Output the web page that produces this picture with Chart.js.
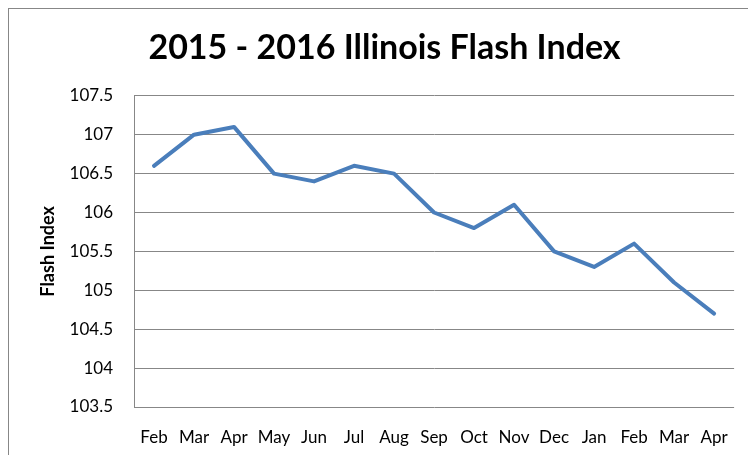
<!DOCTYPE html>
<html>
<head>
<meta charset="utf-8">
<script src="https://cdn.jsdelivr.net/npm/chart.js@4/dist/chart.umd.min.js"></script>
<style>
html,body{margin:0;padding:0;background:#fff;}
#wrap{position:relative;width:748px;height:455px;}
</style>
</head>
<body>
<div id="wrap"><canvas id="c" width="748" height="455"></canvas></div>
<script>
const months = ["Feb","Mar","Apr","May","Jun","Jul","Aug","Sep","Oct","Nov","Dec","Jan","Feb","Mar","Apr"];
const flashIndex = [106.6,107.0,107.1,106.5,106.4,106.6,106.5,106.0,105.8,106.1,105.5,105.3,105.6,105.1,104.7];
const yMin = 103.5, yMax = 107.5, yStep = 0.5;
const titleText = "2015 - 2016 Illinois Flash Index";
const yTitle = "Flash Index";

const frame = {
  id:'frame',
  beforeDraw(chart){
    const ctx = chart.ctx;
    ctx.save();
    ctx.fillStyle='#fff';
    ctx.fillRect(0,0,chart.width,chart.height);
    ctx.strokeStyle='#878787';
    ctx.lineWidth=1;
    ctx.strokeRect(8.5,8.5,1000,1000);
    ctx.restore();
  }
};

new Chart(document.getElementById('c'),{
  type:'line',
  data:{labels:months,datasets:[{data:flashIndex,borderColor:'#4a7ebb',borderWidth:4,pointRadius:0,tension:0,fill:false,borderJoinStyle:'round',borderCapStyle:'round'}]},
  options:{
    responsive:false,animation:false,
    layout:{padding:{left:30,right:9,top:0,bottom:0}},
    plugins:{
      legend:{display:false},tooltip:{enabled:false},
      title:{display:true,text:titleText,color:'#000',font:{family:'Lato',size:34,weight:'bold',lineHeight:1.2},padding:{top:28,bottom:27}}
    },
    scales:{
      x:{
        offset:true,
        grid:{display:false,drawTicks:false},
        border:{display:false},
        ticks:{color:'#000',font:{family:'Lato',size:17},padding:20,maxRotation:0,autoSkip:false},
        afterFit(s){s.height=48;}
      },
      y:{
        min:yMin,max:yMax,
        grid:{color:'#878787',lineWidth:1,drawTicks:false},
        border:{display:true,color:'#878787',width:1},
        ticks:{stepSize:yStep,color:'#000',font:{family:'Lato',size:17},padding:21,callback:v=>String(Math.round(v*10)/10)},
        title:{display:true,text:yTitle,color:'#000',font:{family:'Lato',size:18,weight:'bold',lineHeight:1.2},padding:{top:7,bottom:0}},
        afterFit(s){s.width=104;}
      }
    }
  },
  plugins:[frame]
});
</script>
</body>
</html>
